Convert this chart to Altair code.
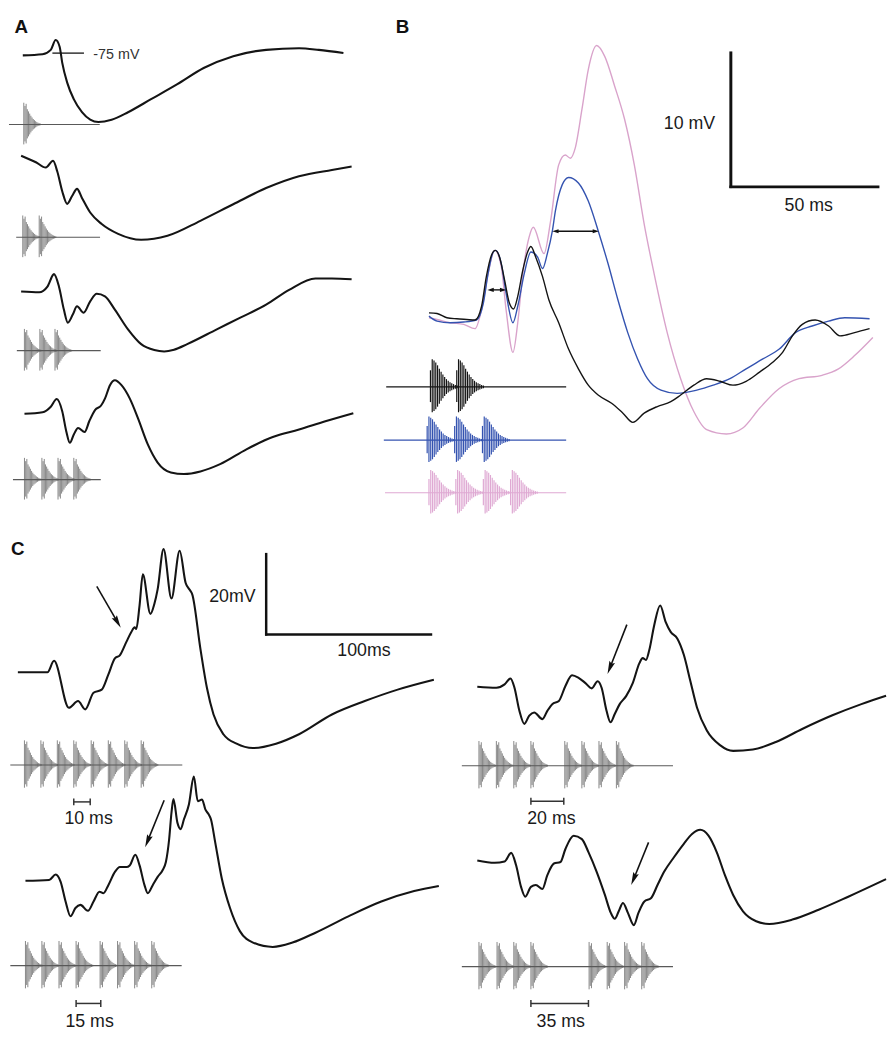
import math
import altair as alt
import pandas as pd

# ============================================================
# Values
# ============================================================
# Panel A: membrane potential, time (ms) from trace start, voltage (mV) relative to -75 mV rest
A1_T = [0, 12, 17, 20, 22.4, 24, 27, 31, 36, 41, 46, 54, 64, 78, 94, 110, 128, 148, 168, 180, 195]
A1_V = [0, 0.3, 1.4, 3.9, 2.2, -1.9, -6.9, -11.1, -14.4, -16.3, -16.9, -16.3, -14.4, -11.1, -7.3, -3.2, -0.2, 1.4, 1.8, 1.4, 0.6]
A2_T = [0, 9, 15, 19.4, 22, 25, 28, 31, 34, 37, 42, 49, 59, 73, 89, 109, 129, 149, 169, 189, 201]
A2_V = [0, -1.65, -3, -1.3, -4, -9, -12.2, -10.2, -8.4, -10.7, -14.4, -17.3, -19.8, -21.3, -20.3, -16.5, -12.3, -8.2, -5.2, -3.6, -2.75]
A3_T = [0, 11, 16, 20, 23, 26, 28.4, 31.4, 34, 38, 42, 46, 51, 57, 65, 73, 81, 87, 93, 101, 119, 133, 149, 163, 179, 189, 201]
A3_V = [0, -0.2, 1.25, 4.4, 1.25, -4.6, -7.9, -5.85, -3.75, -5.4, -2.5, -0.6, -1.25, -4.6, -9.6, -13.35, -14.85, -15.2, -14.75, -13.35, -9.6, -6.7, -3.35, 0.4, 3.3, 3.3, 3.1]
A4_T = [0, 11, 16, 19.6, 23, 25.4, 27.6, 30, 32.6, 36.6, 39.4, 43, 46.6, 49, 52, 55, 59, 64, 69, 75, 81, 89, 97, 107, 119, 135, 151, 167, 183, 200]
A4_V = [0, 0.4, 1.8, 3.75, 0.6, -4.4, -7.35, -5.25, -3.6, -4.6, -1.9, 1, 2.1, 3.9, 7.25, 8.5, 7.25, 3.9, -1.1, -7.75, -12.35, -14.85, -15.25, -14.6, -12.75, -9, -5.9, -4, -1.9, 0.15]
A_STIM_ONSETS = [[0.6], [1.0, 11.0], [2.0, 11.4, 20.6], [0, 10.6, 20.4, 30.0]]
A_STIM_SPAN = [(-8.4, 46.8), (-3, 48), (-2.6, 48.4), (-7, 46.4)]

# Panel B: three stimulus conditions (ms, mV relative to baseline)
B_T_BLACK = [0, 2.7, 6, 9.3, 12.6, 15.4, 17.6, 19.2, 20.9, 22.2, 23.6, 25.3, 26.9, 28.3, 29.7, 31.4, 33, 34.1, 35.7, 38,
             40.1, 43.4, 46.7, 50, 53.3, 56.6, 61.1, 64.9, 68.2, 72, 76.4, 80.9, 84.2, 88.6, 92.9, 97.4, 101.7, 106.1,
             110.6, 115, 118.3, 121.6, 124.9, 129.2, 133.7, 137.5, 142.4, 147.4]
B_V_BLACK = [0, -0.05, -0.36, -0.44, -0.49, -0.53, 0.49, 2.68, 4.26, 4.62, 4.14, 2.43, 0.73, 0.29, 1.22, 3.16, 4.5, 4.91,
             4.14, 2.68, 0.97, -0.73, -2.68, -4.14, -5.35, -6.08, -6.69, -7.42, -8.1, -7.42, -6.93, -6.57, -6.08, -5.35,
             -4.87, -5.06, -5.35, -5.06, -4.38, -3.65, -2.92, -1.7, -0.85, -0.53, -0.97, -1.7, -1.46, -1.17]
B_T_BLUE = [0, 2.7, 7.1, 11.6, 15.9, 18.2, 19.8, 21.5, 22.3, 24.2, 25.8, 28.1, 29.7, 31.9, 34.1, 36.3, 38, 39.6, 41.3,
            42.3, 44.6, 46.7, 50, 53.3, 56.6, 59.9, 63.2, 66.5, 69.8, 73.1, 77.6, 83, 89.6, 95.1, 100.7, 106.1, 111.7,
            117.2, 122.6, 128.2, 133.7, 139.1, 147.4]
B_V_BLUE = [-0.24, -0.61, -0.73, -0.68, -0.53, 0.73, 2.92, 4.5, 4.62, 3.65, 1.46, -0.73, 0.49, 2.92, 4.5, 4.14, 3.28,
            4.38, 6.08, 7.54, 9.49, 10.02, 9.61, 8.27, 6.08, 3.65, 0.97, -1.46, -3.41, -4.87, -5.72, -5.96, -5.72,
            -5.35, -4.87, -4.14, -3.41, -2.68, -1.46, -0.97, -0.61, -0.36, -0.44]
B_T_PINK = [0, 2.7, 7.1, 11.6, 15.4, 17.6, 19.8, 22, 24.2, 25.8, 28.1, 29.7, 31.4, 33.5, 34.9, 38.5, 40.7, 43.4, 45.6,
            47.3, 48.9, 51.2, 53.3, 56.1, 58.8, 62.1, 65.4, 68.7, 72, 75.3, 79.7, 84.2, 88.6, 92.9, 99.5, 105, 110.6,
            117.2, 123.8, 131.5, 137, 142.4, 148.5]
B_V_PINK = [-0.36, -0.49, -0.73, -0.85, -1.17, 0.24, 2.92, 4.62, 3.41, 0.24, -2.92, -0.73, 2.92, 5.6, 6.33, 4.38, 6.81,
            10.95, 11.68, 11.44, 12.17, 15.09, 18.0, 19.78, 18.98, 16.79, 14.36, 10.95, 6.57, 2.92, -1.46, -4.87,
            -7.3, -8.64, -8.96, -8.52, -7.06, -5.6, -4.87, -4.62, -4.14, -3.16, -1.82]
B_STIM_ONSETS = [[0.5, 9.3], [-0.6, 8.6, 17.9], [0, 9.0, 18.2, 27.3]]
B_STIM_SPAN = [(-14.3, 45.9), (-15.1, 45.9), (-14.7, 45.9)]

# Panel C: burst trains with a gap (ms, mV relative to baseline)
C1_T = [0, 18, 22, 31, 36.6, 41, 46, 51, 55, 59, 62, 66, 69, 71, 72, 74, 76, 80.6, 83, 85, 88.6, 93.4, 98.4, 102, 105,
        106, 111, 115, 119, 125, 133, 143, 157, 171, 191, 211, 231, 253]
C1_V = [0, 0, 2.9, -9, -7.3, -9.4, -5.2, -4.4, -0.6, 3.5, 4.3, 7.7, 10.2, 11.4, 11.0, 16.9, 24.8, 14.8, 17.3, 21, 31.2,
        18.7, 30.8, 22.7, 20.6, 19.8, 6, -4, -10.7, -15.7, -18.1, -19.2, -18.1, -15.7, -10.7, -7.3, -4.4, -1.9]
C2_T = [0, 14.4, 18.4, 21.4, 24.4, 27.4, 30.4, 33.4, 38, 41.4, 45, 47.4, 50.4, 54.4, 57.4, 61.4, 63.4, 66.8, 69.4, 72.4,
        74.4, 77.4, 80.4, 83.4, 85.4, 87.4, 88.8, 90, 92.4, 94.4, 96.4, 99.4, 102.4, 104.8, 107.4, 109.4, 111.4, 112.8,
        115.4, 119.4, 124.4, 130.4, 138.4, 150.4, 162.4, 176.4, 196.4, 216.4, 236.4, 251.4]
C2_V = [0, 0.2, 1.6, -0.25, -5.25, -9, -6.9, -6.1, -7.6, -5.25, -2.75, -3.15, -1.1, 2.25, 3.5, 3.5, 3.9, 6.6, 3.9, -1.1,
        -3.15, -1.1, 1, 2.7, 4.75, 10.6, 17.25, 20.75, 14.75, 13.1, 15.6, 19.35, 26.4, 20.2, 20.6, 18.1, 16.85, 15.6,
        9.75, 0.6, -6.9, -12.75, -15.65, -16.75, -15.65, -13.15, -9, -5.25, -2.6, -1.3]
C3_T = [0, 11.6, 16.6, 20.2, 22.6, 25.6, 28.6, 31.6, 34.6, 39.6, 42.6, 45.6, 49.6, 53.6, 57.6, 61.6, 65.6, 69.6, 73.2,
        75.6, 78.6, 81, 83.6, 86.6, 90.6, 94.6, 98.6, 100.6, 102.6, 104.6, 107.6, 111.2, 114.6, 117.6, 121.6, 125.6,
        129.6, 133.6, 139.6, 147.6, 155.6, 167.6, 181.6, 197.6, 215.6, 233.6, 248.6]
C3_V = [0, -0.25, 0.6, 2.1, -0.25, -6.1, -9.4, -7.3, -6.5, -8.2, -6.1, -4.4, -3.6, 0.2, 2.9, 2.25, 1, -0.4, 1.4, -0.25,
        -6.1, -9, -6.9, -4.4, -2.3, 1, 6, 7.25, 6.8, 9.3, 15.6, 20.6, 16.4, 13.9, 12.25, 8.1, 1.4, -5.25, -11.1, -14.8,
        -16.25, -15.9, -14, -10.7, -7.3, -4.4, -2.3]
C4_T = [0, 10.6, 16.6, 20.6, 23.6, 26.6, 29.2, 32.6, 35.6, 39.6, 42.6, 46.6, 50.6, 53.6, 58.6, 63.6, 67.6, 72.6, 77.6,
        81.2, 83.6, 86, 88.6, 91.6, 95.2, 98, 101.6, 105.6, 109.6, 113.6, 119.6, 125.6, 130.6, 135.6, 140.6, 145.6,
        150.6, 155.6, 161.6, 169.6, 177.6, 191.6, 207.6, 225.6, 248.6]
C4_V = [0, -0.6, -0.25, 1.9, -1.25, -6.7, -9.2, -6.7, -6.25, -7.25, -3.75, -0.8, -0.4, 2.9, 6.25, 5.4, 2.1, -2.9, -8.75,
        -13.3, -14.8, -12.9, -10.8, -13.3, -16.4, -13.3, -10.4, -9.6, -6.25, -2.9, 0.8, 4.2, 6.7, 7.75, 6.25, 2.1,
        -3.75, -8.75, -12.9, -15.4, -16.1, -15, -12.5, -9.2, -4.75]
C_STIM_ONSETS = [[4.0, 14.0, 24.0, 34.0, 44.6, 55.0, 65.0, 75.0],
                 [0, 10.0, 20.4, 30.8, 45.4, 56.0, 66.4, 76.8],
                 [1.0, 11.6, 22.2, 32.6, 53.2, 63.6, 74.0, 84.6],
                 [1.0, 12.0, 22.2, 32.6, 68.0, 79.0, 89.6, 100.0]]
C_STIM_SPAN = [(-4.6, 100), (-9.2, 95), (-9.4, 119), (-9.4, 119)]
C_GAPS_MS = [10, 15, 20, 35]

# relative amplitude of successive carrier cycles in one sound burst
AC_BURST = [1.0, 0.85, 0.95, 0.7, 0.6, 0.5, 0.4, 0.32, 0.25, 0.2, 0.15, 0.11, 0.08, 0.06, 0.04]
B_BURST = [0.6, 1.0, 0.95, 0.88, 0.78, 0.66, 0.55, 0.45, 0.36, 0.28, 0.22, 0.17, 0.13, 0.1, 0.07, 0.05]

# ============================================================
# Layout (figure pixels) and styles
# ============================================================
PX_MS_AC, PX_MV_AC = 1 / 0.6, 4.0
PX_MS_B, PX_MV_B = 3.03, 13.7
A_ORIGINS = [(20, 49), (18.3, 150.7), (18.3, 288.3), (21.7, 412.3)]
A_STIM_Y = [119, 233.3, 348.3, 479]
C_ORIGINS = [(15, 674.3), (22.7, 885.7), (480.7, 689), (480.7, 865)]
C_STIM_Y = [768.3, 971.7, 769, 972.7]
C_GAP_BAR_Y = [805.7, 1010, 805, 1010]
C_GAP_LABEL = [(86.7, 823), (87.7, 1029), (555.8, 823), (565.3, 1029)]
B_ORIGIN = (431.7, 310)
B_STIM_Y = [385, 439, 492.3]
B_STIM_AMP = [28, 24, 23]
BLACK, BLUE, PINK, GRAY = "#141414", "#3453b0", "#d9a3cb", "#595959"
B_COLORS = [BLACK, BLUE, "#dfa9d3"]
FONT = "Liberation Sans"

XS = alt.Scale(domain=[8, 888], nice=False, zero=False)
YS = alt.Scale(domain=[8, 1034], nice=False, zero=False, reverse=True)


def X(f="x"):
    return alt.X(f + ":Q", scale=XS, axis=None)


def Y(f="y"):
    return alt.Y(f + ":Q", scale=YS, axis=None)


def trace_df(name, t, v, x0, y0, pxms, pxmv):
    return pd.DataFrame({"id": name, "i": list(range(len(t))),
                         "x": [x0 + a * pxms for a in t],
                         "y": [y0 - b * pxmv for b in v]})


# ---------- traces ----------
ac_traces = pd.concat([
    trace_df("A1", A1_T, A1_V, *A_ORIGINS[0], PX_MS_AC, PX_MV_AC),
    trace_df("A2", A2_T, A2_V, *A_ORIGINS[1], PX_MS_AC, PX_MV_AC),
    trace_df("A3", A3_T, A3_V, *A_ORIGINS[2], PX_MS_AC, PX_MV_AC),
    trace_df("A4", A4_T, A4_V, *A_ORIGINS[3], PX_MS_AC, PX_MV_AC),
    trace_df("C1", C1_T, C1_V, *C_ORIGINS[0], PX_MS_AC, PX_MV_AC),
    trace_df("C2", C2_T, C2_V, *C_ORIGINS[1], PX_MS_AC, PX_MV_AC),
    trace_df("C3", C3_T, C3_V, *C_ORIGINS[2], PX_MS_AC, PX_MV_AC),
    trace_df("C4", C4_T, C4_V, *C_ORIGINS[3], PX_MS_AC, PX_MV_AC),
])
layers = []

# ---------- stimuli ----------
stroke_rows_ac, stroke_rows_b, base_rows = [], [], []


def add_stim(rows, onsets, span, x0, base, amp, template, spacing, pxms, color):
    for on in onsets:
        xs0 = x0 + on * pxms
        for j, a in enumerate(template):
            rows.append({"x": xs0 + j * spacing, "y": base - a * amp, "y2": base + a * amp * 0.92, "color": color})
    base_rows.append({"x": x0 + span[0] * pxms, "x2": x0 + span[1] * pxms, "y": base, "color": color})


for k in range(4):
    add_stim(stroke_rows_ac, A_STIM_ONSETS[k], A_STIM_SPAN[k], A_ORIGINS[k][0], A_STIM_Y[k], 22,
             AC_BURST, 1.2, PX_MS_AC, GRAY)
    add_stim(stroke_rows_ac, C_STIM_ONSETS[k], C_STIM_SPAN[k], C_ORIGINS[k][0], C_STIM_Y[k], 25,
             AC_BURST, 1.2, PX_MS_AC, GRAY)
for k in range(3):
    add_stim(stroke_rows_b, B_STIM_ONSETS[k], B_STIM_SPAN[k], B_ORIGIN[0], B_STIM_Y[k], B_STIM_AMP[k],
             B_BURST, 1.8, PX_MS_B, B_COLORS[k])

layers.append(alt.Chart(pd.DataFrame(base_rows)).mark_rule(strokeWidth=1.1).encode(
    x=X(), x2="x2:Q", y=Y(), color=alt.Color("color:N", scale=None)))
layers.append(alt.Chart(pd.DataFrame(stroke_rows_ac)).mark_rule(strokeWidth=0.8, opacity=0.9).encode(
    x=X(), y=Y(), y2="y2:Q", color=alt.Color("color:N", scale=None)))
layers.append(alt.Chart(pd.DataFrame(stroke_rows_b)).mark_rule(strokeWidth=1.2).encode(
    x=X(), y=Y(), y2="y2:Q", color=alt.Color("color:N", scale=None)))

# ---------- response traces ----------
layers.append(alt.Chart(ac_traces).mark_line(interpolate="monotone", strokeWidth=2.1, color=BLACK,
                                             strokeJoin="round").encode(
    x=X(), y=Y(), detail="id:N", order="i:Q"))
for name, t, v, col in [("pink", B_T_PINK, B_V_PINK, PINK), ("blue", B_T_BLUE, B_V_BLUE, BLUE),
                        ("black", B_T_BLACK, B_V_BLACK, BLACK)]:
    df = trace_df(name, t, v, *B_ORIGIN, PX_MS_B, PX_MV_B)
    layers.append(alt.Chart(df).mark_line(interpolate="monotone", strokeWidth=1.4, color=col).encode(
        x=X(), y=Y(), order="i:Q"))

# ---------- scale bars ----------
bars = pd.DataFrame([
    {"x": 737.7, "x2": 737.7, "y": 45, "y2": 183.5, "w": 3},      # B 10 mV
    {"x": 736.2, "x2": 888.3, "y": 182.3, "y2": 182.3, "w": 3},   # B 50 ms
    {"x": 266.7, "x2": 266.7, "y": 553.3, "y2": 637.2, "w": 2.5},  # C 20 mV
    {"x": 265.5, "x2": 435, "y": 636, "y2": 636, "w": 2.5},       # C 100 ms
    {"x": 50, "x2": 82, "y": 46.7, "y2": 46.7, "w": 1.3},         # -75 mV marker
])
for w, grp in bars.groupby("w"):
    layers.append(alt.Chart(grp).mark_rule(strokeWidth=float(w), color="#111").encode(
        x=X(), x2="x2:Q", y=Y(), y2="y2:Q"))

# gap bars in C
gap_rows = []
for k in range(4):
    xa = C_ORIGINS[k][0] + C_STIM_ONSETS[k][3] * PX_MS_AC
    xb = xa + C_GAPS_MS[k] * PX_MS_AC
    yb = C_GAP_BAR_Y[k]
    gap_rows += [{"x": xa, "x2": xb, "y": yb, "y2": yb},
                 {"x": xa, "x2": xa, "y": yb - 3.5, "y2": yb + 3.5},
                 {"x": xb, "x2": xb, "y": yb - 3.5, "y2": yb + 3.5}]
layers.append(alt.Chart(pd.DataFrame(gap_rows)).mark_rule(strokeWidth=1.5, color="#333").encode(
    x=X(), x2="x2:Q", y=Y(), y2="y2:Q"))

# ---------- arrows ----------
C_ARROWS = [((95, 587.3), (119.3, 629.3)), ((163.3, 804), (144, 851.7)),
            ((632.3, 626), (612.7, 676)), ((654.3, 846.7), (636.7, 890))]
HEAD_SIZE = 210
half = math.sqrt(HEAD_SIZE) / 2
shafts, heads = [], []
for (tx, ty), (hx, hy) in C_ARROWS:
    dx, dy = hx - tx, hy - ty
    L = math.hypot(dx, dy)
    ux, uy = dx / L, dy / L
    cx, cy = hx - ux * half, hy - uy * half
    shafts.append({"x": tx, "y": ty, "x2": cx, "y2": cy})
    heads.append({"x": cx, "y": cy, "angle": math.degrees(math.atan2(dx, -dy)) % 360})
layers.append(alt.Chart(pd.DataFrame(shafts)).mark_rule(strokeWidth=1.6, color="#111").encode(
    x=X(), x2="x2:Q", y=Y(), y2="y2:Q"))
layers.append(alt.Chart(pd.DataFrame(heads)).mark_point(
    shape="M0,-1L0.42,0.8L0,0.55L-0.42,0.8Z", filled=True, size=HEAD_SIZE, color="#111", opacity=1).encode(
    x=X(), y=Y(), angle=alt.Angle("angle:Q", scale=None)))

# double arrows in B
B_DOUBLE = [(491, 510, 286.7), (556.7, 604, 227.3)]
DH = 50
dh = math.sqrt(DH) / 2
d_shafts, d_heads = [], []
for xa, xb, yy in B_DOUBLE:
    d_shafts.append({"x": xa + dh, "x2": xb - dh, "y": yy})
    d_heads += [{"x": xa + dh, "y": yy, "angle": 270}, {"x": xb - dh, "y": yy, "angle": 90}]
layers.append(alt.Chart(pd.DataFrame(d_shafts)).mark_rule(strokeWidth=1.4, color="#111").encode(
    x=X(), x2="x2:Q", y=Y()))
layers.append(alt.Chart(pd.DataFrame(d_heads)).mark_point(
    shape="M0,-1L0.6,0.8L-0.6,0.8Z", filled=True, size=DH, color="#111", opacity=1).encode(
    x=X(), y=Y(), angle=alt.Angle("angle:Q", scale=None)))

# ---------- text ----------
letters = pd.DataFrame([{"x": 11.5, "y": 26.7, "t": "A"}, {"x": 398, "y": 26.2, "t": "B"},
                        {"x": 8, "y": 555, "t": "C"}])
layers.append(alt.Chart(letters).mark_text(font=FONT, fontSize=19, fontWeight="bold", align="left",
                                           baseline="alphabetic", color="#111").encode(
    x=X(), y=Y(), text="t:N"))
units = pd.DataFrame([{"x": 695.8, "y": 118.3, "t": "10 mV"}, {"x": 816.7, "y": 201.7, "t": "50 ms"},
                      {"x": 232.5, "y": 598.3, "t": "20mV"}, {"x": 365.8, "y": 653.3, "t": "100ms"}] +
                     [{"x": C_GAP_LABEL[k][0], "y": C_GAP_LABEL[k][1], "t": f"{C_GAPS_MS[k]} ms"} for k in range(4)])
layers.append(alt.Chart(units).mark_text(font=FONT, fontSize=18, align="center", baseline="middle",
                                         color="#1a1a1a").encode(x=X(), y=Y(), text="t:N"))
layers.append(alt.Chart(pd.DataFrame([{"x": 91.5, "y": 48.5, "t": "-75 mV"}])).mark_text(
    font=FONT, fontSize=14.5, align="left", baseline="middle", color="#333").encode(
    x=X(), y=Y(), text="t:N"))

chart = alt.layer(*layers).properties(width=880, height=1026, padding=0,
                                      background="white").configure_view(stroke=None)
chart.save("out.html", embed_options={"renderer": "svg", "actions": False})
